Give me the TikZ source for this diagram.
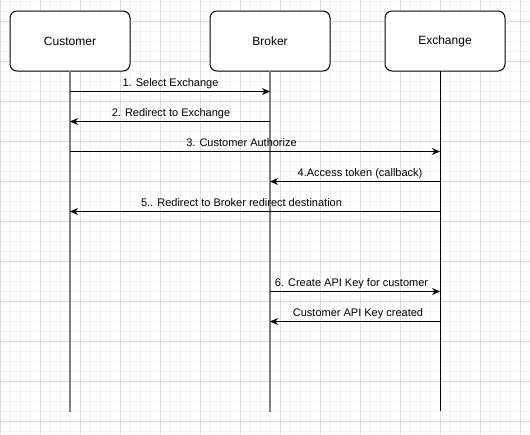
\documentclass[tikz,border=0pt]{standalone}
\usepackage{fontspec}
\setmainfont{Liberation Sans}
\usetikzlibrary{arrows.meta}
\definecolor{gridminor}{HTML}{F3F3F3}
\definecolor{gridmajor}{HTML}{DDDDDD}
\definecolor{lifegray}{HTML}{808080}
\tikzset{
  actor/.style={draw=black, line width=1pt, rounded corners=7pt, minimum width=120pt, minimum height=60pt, inner sep=0pt, font=\fontsize{12}{14}\selectfont, fill=white},
  lifeA/.style={draw=lifegray, line width=2pt},
  lifeB/.style={draw=black, line width=1pt},
  msg/.style={draw=black, line width=1pt, -{Stealth[length=8pt,width=7pt,inset=2.5pt]}},
  lbl/.style={anchor=base, inner sep=0pt, font=\fontsize{11}{13}\selectfont}
}
\begin{document}
\begin{tikzpicture}[x=1pt,y=-1pt]
\useasboundingbox (0,0) rectangle (530,434);
\fill[white] (0,0) rectangle (530,434);
% grid
\foreach \gx in {0,10,...,530} {\draw[gridminor, line width=1pt] (\gx,0) -- (\gx,434);}
\foreach \gy in {1,11,...,431} {\draw[gridminor, line width=1pt] (0,\gy) -- (530,\gy);}
\foreach \gx in {0,40,...,520} {\draw[gridmajor, line width=1pt] (\gx,0) -- (\gx,434);}
\foreach \gy in {21,61,...,421} {\draw[gridmajor, line width=1pt] (0,\gy) -- (530,\gy);}
% actors
\node[actor] (cust) at (70,41) {Customer};
\node[actor] (brok) at (270,41) {Broker};
\node[actor] (exch) at (445,41) {Exchange};
% lifelines
\coordinate (cl) at (70,71);
\coordinate (clEnd) at (70,412);
\coordinate (bl) at (270,71);
\coordinate (blEnd) at (270,412);
\coordinate (el) at (440,71);
\coordinate (elEnd) at (440,411);
\draw[lifeA] (cl) -- (clEnd);
\draw[lifeA] (bl) -- (blEnd);
\draw[lifeB] (el) -- (elEnd);
% message rows
\coordinate (r1) at (0,91.5);
\coordinate (r2) at (0,121.5);
\coordinate (r3) at (0,151.5);
\coordinate (r4) at (0,181.5);
\coordinate (r5) at (0,211.5);
\coordinate (r6) at (0,291.5);
\coordinate (r7) at (0,321.5);
\draw[msg] (cl |- r1) -- (bl |- r1);
\draw[msg] (bl |- r2) -- (cl |- r2);
\draw[msg] (cl |- r3) -- (el |- r3);
\draw[msg] (el |- r4) -- (bl |- r4);
\draw[msg] (el |- r5) -- (cl |- r5);
\draw[msg] (bl |- r6) -- (el |- r6);
\draw[msg] (el |- r7) -- (bl |- r7);
% labels
\node[lbl] (l1) at (170.5,86.5) {1. Select Exchange};
\node[lbl] (l2) at (171,116.5) {2. Redirect to Exchange};
\node[lbl] (l3) at (241.5,146.5) {3. Customer Authorize};
\node[lbl] (l4) at (360,176.5) {4.Access token (callback)};
\node[lbl] (l5) at (241.5,206.5) {5.. Redirect to Broker redirect destination};
\node[lbl] (l6) at (351.5,286.5) {6. Create API Key for customer};
\node[lbl] (l7) at (358,316.5) {Customer API Key created};
\end{tikzpicture}
\end{document}
